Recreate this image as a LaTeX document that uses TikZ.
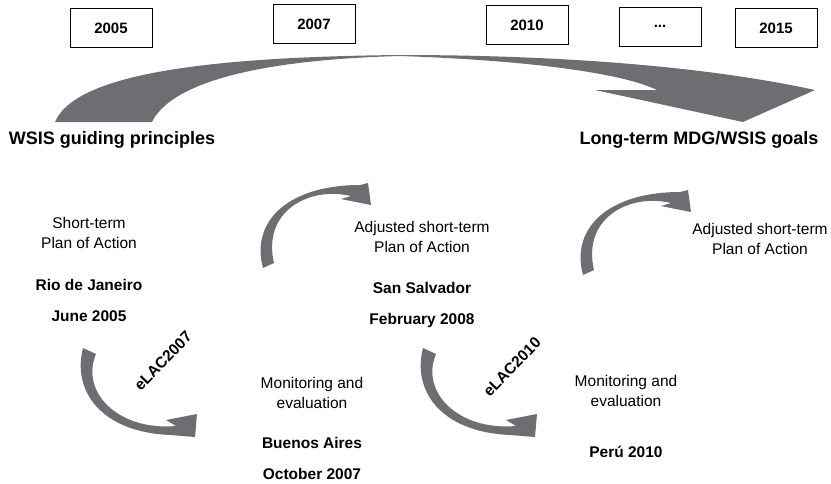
\documentclass[tikz,border=0pt]{standalone}
\usepackage{fontspec}
\setmainfont{Liberation Sans}
\definecolor{arrowgray}{HTML}{6D6E71}
\tikzset{
  yearbox/.style={draw=black, line width=0.8pt, minimum width=82pt, minimum height=39pt, inner sep=0pt, font=\fontsize{15}{17}\selectfont\bfseries},
  titletext/.style={font=\fontsize{18}{21}\selectfont\bfseries, inner sep=0pt},
  bodytext/.style={font=\fontsize{15.5}{19.5}\selectfont, align=center, inner sep=0pt},
  boldtext/.style={font=\fontsize{15.5}{19}\selectfont\bfseries, inner sep=0pt},
  ribbon/.style={fill=arrowgray, draw=none},
}
\begin{document}
\begin{tikzpicture}[x=1pt, y=-1pt]
\useasboundingbox (0,0) rectangle (831,483);

% year boxes
\node[yearbox] (y2005) at (111,28) {2005};
\node[yearbox] (y2007) at (314,24) {2007};
\node[yearbox] (y2010) at (527,25) {2010};
\node[yearbox] (ydots) at (660,26.5) {...};
\node[yearbox] (y2015) at (776,28) {2015};

% big arrow
\fill[ribbon] (55,122) .. controls (75,75) and (200,57) .. (400,55)
  .. controls (550,55) and (700,65) .. (815,90)
  -- (743,122) -- (595,90) -- (657,90)
  .. controls (620,72) and (520,60) .. (400,56)
  .. controls (250,60) and (170,85) .. (152,122) -- cycle;

\node[titletext] (wsis) at (112,140) {WSIS guiding principles};
\node[titletext] (goals) at (699,140) {Long-term MDG/WSIS goals};

% down arrows
\foreach \dx in {0,340}{
\begin{scope}[xshift=\dx]
\fill[ribbon] (83,348) .. controls (72,390) and (100,432) .. (170,435)
  -- (195,437) -- (197,414) -- (166,420) -- (176,426)
  .. controls (118,431) and (80,392) .. (96,354) -- cycle;
\end{scope}}

% up arrows
\foreach \dx/\dy in {0/0,320/-7}{
\begin{scope}[xshift=\dx, yshift=\dy]
\fill[ribbon] (263,268) .. controls (250,220) and (290,185) .. (360,185)
  -- (368,183) -- (371,205) -- (341,199) -- (351,196)
  .. controls (308,186) and (262,212) .. (274,263) -- cycle;
\end{scope}}

% texts
\node[bodytext] (plan1) at (89,233) {Short-term\\Plan of Action};
\node[boldtext] (rio) at (89,285) {Rio de Janeiro};
\node[boldtext] (june) at (89,316) {June 2005};

\node[bodytext] (plan2) at (422,237) {Adjusted short-term\\Plan of Action};
\node[boldtext] (ss) at (422,288) {San Salvador};
\node[boldtext] (feb) at (422,320) {February 2008};

\node[bodytext] (mon1) at (312,393) {Monitoring and\\evaluation};
\node[boldtext] (ba) at (312,443) {Buenos Aires};
\node[boldtext] (oct) at (312,474) {October 2007};

\node[bodytext] (mon2) at (626,391) {Monitoring and\\evaluation};
\node[boldtext] (peru) at (626,452) {Perú 2010};

\node[bodytext] (plan3) at (760,239) {Adjusted short-term\\Plan of Action};

\node[boldtext, rotate=46] (e2007) at (163,361) {eLAC2007};
\node[boldtext, rotate=46] (e2010) at (512,367) {eLAC2010};
\end{tikzpicture}
\end{document}
